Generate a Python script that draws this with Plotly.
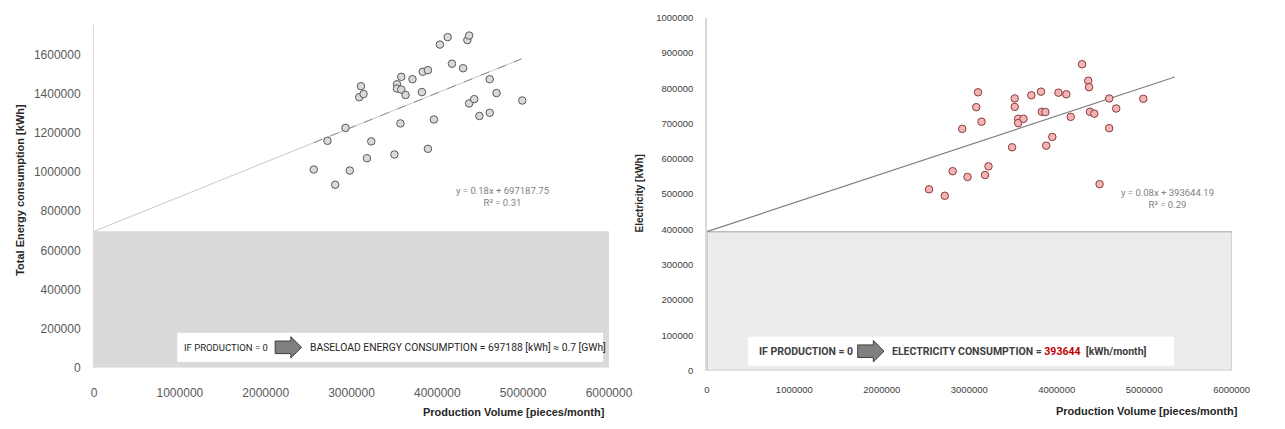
import plotly.graph_objects as go

# ---------------- data ----------------
# Left chart: Total energy consumption vs production volume
prod_total = [2.56e6, 2.81e6, 2.72e6, 2.93e6, 2.98e6, 3.09e6, 3.11e6, 3.14e6, 3.18e6, 3.23e6,
              3.50e6, 3.53e6, 3.53e6, 3.58e6, 3.58e6, 3.57e6, 3.63e6, 3.71e6, 3.82e6, 3.83e6,
              3.89e6, 3.89e6, 3.96e6, 4.03e6, 4.12e6, 4.17e6, 4.30e6, 4.35e6, 4.37e6, 4.37e6,
              4.43e6, 4.49e6, 4.61e6, 4.61e6, 4.69e6, 4.99e6]
energy_total = [1013000, 935500, 1160000, 1226000, 1008000, 1383000, 1439000, 1399000, 1071000, 1157000,
                1090000, 1449000, 1427000, 1487000, 1422000, 1249000, 1394000, 1475000, 1409000, 1513000,
                1521000, 1119000, 1269000, 1652000, 1690000, 1554000, 1531000, 1675000, 1698000, 1351000,
                1373000, 1287000, 1475000, 1303000, 1404000, 1366000]

# Right chart: Electricity vs production volume
prod_elec = [2.54e6, 2.72e6, 2.81e6, 2.92e6, 2.98e6, 3.08e6, 3.10e6, 3.14e6, 3.18e6, 3.22e6,
             3.49e6, 3.52e6, 3.52e6, 3.56e6, 3.56e6, 3.62e6, 3.71e6, 3.82e6, 3.83e6, 3.87e6,
             3.88e6, 3.95e6, 4.02e6, 4.11e6, 4.16e6, 4.29e6, 4.36e6, 4.37e6, 4.38e6, 4.43e6,
             4.49e6, 4.60e6, 4.60e6, 4.68e6, 4.99e6]
electricity = [513700, 495300, 565000, 684900, 548600, 746300, 788400, 705200, 554100, 578700,
               632700, 771100, 747200, 713400, 701300, 713400, 780100, 790300, 733400, 732500,
               637300, 662000, 787500, 782900, 718900, 868000, 821400, 803000, 733400, 728000,
               528300, 771100, 686800, 742500, 770000]

# trend lines (intercept from equations, slope as drawn)
intercept_total = 697187.75
slope_total = 0.177
intercept_elec = 393644.19
slope_elec = 0.0819
trend_total_x = [0, 4.98e6]
trend_total_dash_x = [2.56e6, 4.98e6]
trend_elec_x = [0, 5.35e6]

x_ticks = [0, 1000000, 2000000, 3000000, 4000000, 5000000, 6000000]
y_ticks_left = [0, 200000, 400000, 600000, 800000, 1000000, 1200000, 1400000, 1600000]
y_ticks_right = [0, 100000, 200000, 300000, 400000, 500000, 600000, 700000, 800000, 900000, 1000000]

eq_left = ["y = 0.18x + 697187.75", "R² = 0.31"]
eq_right = ["y = 0.08x + 393644.19", "R² = 0.29"]

W, H = 1285, 429
NARROW = "Roboto, 'Open Sans', sans-serif"


def px(x):
    return x / W


def py(y):
    return 1 - y / H


fig = go.Figure()

# ---------- left traces ----------
fig.add_trace(go.Scatter(
    x=trend_total_x, y=[intercept_total + slope_total * v for v in trend_total_x],
    mode="lines", line=dict(color="#c8c8c8", width=1), xaxis="x", yaxis="y", showlegend=False))
fig.add_trace(go.Scatter(
    x=trend_total_dash_x, y=[intercept_total + slope_total * v for v in trend_total_dash_x],
    mode="lines", line=dict(color="#8c8c8c", width=1, dash="dash"), xaxis="x", yaxis="y", showlegend=False))
fig.add_trace(go.Scatter(
    x=prod_total, y=energy_total, mode="markers",
    marker=dict(size=7.5, color="#d9d9d9", line=dict(color="#595959", width=1)),
    xaxis="x", yaxis="y", showlegend=False))

# ---------- right traces ----------
fig.add_trace(go.Scatter(
    x=trend_elec_x, y=[intercept_elec + slope_elec * v for v in trend_elec_x],
    mode="lines", line=dict(color="#7f7f7f", width=1.2), xaxis="x2", yaxis="y2", showlegend=False))
fig.add_trace(go.Scatter(
    x=prod_elec, y=electricity, mode="markers",
    marker=dict(size=7.5, color="#f2b4b4", line=dict(color="#8b3a3a", width=1)),
    xaxis="x2", yaxis="y2", showlegend=False))

shapes = []
# gray baseload rectangles
shapes.append(dict(type="rect", xref="x", yref="y", x0=0, x1=6000000, y0=0, y1=intercept_total,
                   fillcolor="#d9d9d9", line=dict(width=0), layer="below"))
shapes.append(dict(type="rect", xref="x2", yref="y2", x0=0, x1=6000000, y0=0, y1=intercept_elec,
                   fillcolor="#ececec", line=dict(color="#bdbdbd", width=1.5), layer="below"))

# white text boxes
shapes.append(dict(type="rect", xref="paper", yref="paper", x0=px(178), x1=px(613), y0=py(367), y1=py(337),
                   fillcolor="white", line=dict(width=0)))
shapes.append(dict(type="rect", xref="paper", yref="paper", x0=px(761), x1=px(1196), y0=py(371), y1=py(341),
                   fillcolor="white", line=dict(width=0)))


def arrow_path(x0, x1, yc, hb, hh, hl):
    xb = x1 - hl
    pts = [(x0, yc - hb / 2), (xb, yc - hb / 2), (xb, yc - hh / 2), (x1, yc),
           (xb, yc + hh / 2), (xb, yc + hb / 2), (x0, yc + hb / 2)]
    return "M " + " L ".join(f"{px(a):.5f},{py(b):.5f}" for a, b in pts) + " Z"


shapes.append(dict(type="path", xref="paper", yref="paper", path=arrow_path(278, 305, 352, 13, 22, 11),
                   fillcolor="#7f7f7f", line=dict(color="#404040", width=1)))
shapes.append(dict(type="path", xref="paper", yref="paper", path=arrow_path(873, 900, 356, 13, 22, 11),
                   fillcolor="#7f7f7f", line=dict(color="#404040", width=1)))

annotations = []


def ann(xp, yp, text, font, xanchor="center", angle=0, align="center"):
    annotations.append(dict(xref="paper", yref="paper", x=px(xp), y=py(yp), text=text,
                            xanchor=xanchor, yanchor="middle", showarrow=False, textangle=angle,
                            align=align, font=font))


# box texts
ann(228, 352, "IF PRODUCTION = 0", dict(family=NARROW, size=9.5, color="#262626"))
ann(312, 352, "BASELOAD ENERGY CONSUMPTION = 697188 [kWh] ≈ 0.7 [GWh]",
    dict(family=NARROW, size=10.3, color="#262626"), xanchor="left")
ann(820, 356, "<b>IF PRODUCTION = 0</b>", dict(family=NARROW, size=10.5, color="#404040"))
ann(906, 356, "<b>ELECTRICITY CONSUMPTION = <span style='color:#c00000'>393644</span>  [kWh/month]</b>",
    dict(family=NARROW, size=10.5, color="#404040"), xanchor="left")

# equations
ann(510, 196, eq_left[0] + "<br>" + eq_left[1], dict(family=NARROW, size=9.5, color="#7f7f7f"))
ann(1190, 199, eq_right[0] + "<br>" + eq_right[1], dict(family=NARROW, size=9.5, color="#7f7f7f"))

# axis titles
ann(18, 190, "<b>Total Energy consumption [kWh]</b>",
    dict(family="Liberation Sans", size=11, color="#262626"), angle=-90)
ann(522, 419, "<b>Production Volume [pieces/month]</b>",
    dict(family="Liberation Sans", size=11, color="#262626"))
ann(650, 193, "<b>Electricity [kWh]</b>",
    dict(family="Liberation Sans", size=10, color="#262626"), angle=-90)
ann(1169, 418, "<b>Production Volume [pieces/month]</b>",
    dict(family="Liberation Sans", size=11, color="#262626"))

fig.update_layout(
    width=W, height=H, autosize=False,
    margin=dict(l=0, r=0, t=0, b=0),
    paper_bgcolor="white", plot_bgcolor="white",
    shapes=shapes, annotations=annotations,
    xaxis=dict(domain=[px(93), px(619)], range=[0, 6000000], tickvals=x_ticks,
               ticktext=[str(v) for v in x_ticks], showgrid=False, zeroline=False, showline=False,
               ticks="", ticklabelstandoff=16,
               tickfont=dict(family="Liberation Sans", size=12, color="#595959"), anchor="y"),
    yaxis=dict(domain=[py(373), py(20)], range=[0, 1750000], tickvals=y_ticks_left,
               ticktext=[str(v) for v in y_ticks_left], showgrid=False, zeroline=False,
               showline=True, linecolor="#d9d9d9", linewidth=1, ticks="", ticklabelstandoff=10,
               tickfont=dict(family="Liberation Sans", size=12, color="#595959"), anchor="x"),
    xaxis2=dict(domain=[px(719), px(1255)], range=[0, 6000000], tickvals=x_ticks,
                ticktext=[str(v) for v in x_ticks], showgrid=False, zeroline=False, showline=False,
                ticks="", ticklabelstandoff=12,
                tickfont=dict(family="Liberation Sans", size=9.5, color="#404040"), anchor="y2"),
    yaxis2=dict(domain=[py(376), py(12)], range=[0, 1000000], tickvals=y_ticks_right,
                ticktext=[str(v) for v in y_ticks_right], showgrid=False, zeroline=False,
                showline=True, linecolor="#d9d9d9", linewidth=1.5, ticks="", ticklabelstandoff=10,
                tickfont=dict(family="Liberation Sans", size=9.5, color="#404040"), anchor="x2"),
)

fig.write_html("out.html", config={"displayModeBar": False},
               post_script="document.body.style.margin='0px'; document.body.style.overflow='hidden';")
